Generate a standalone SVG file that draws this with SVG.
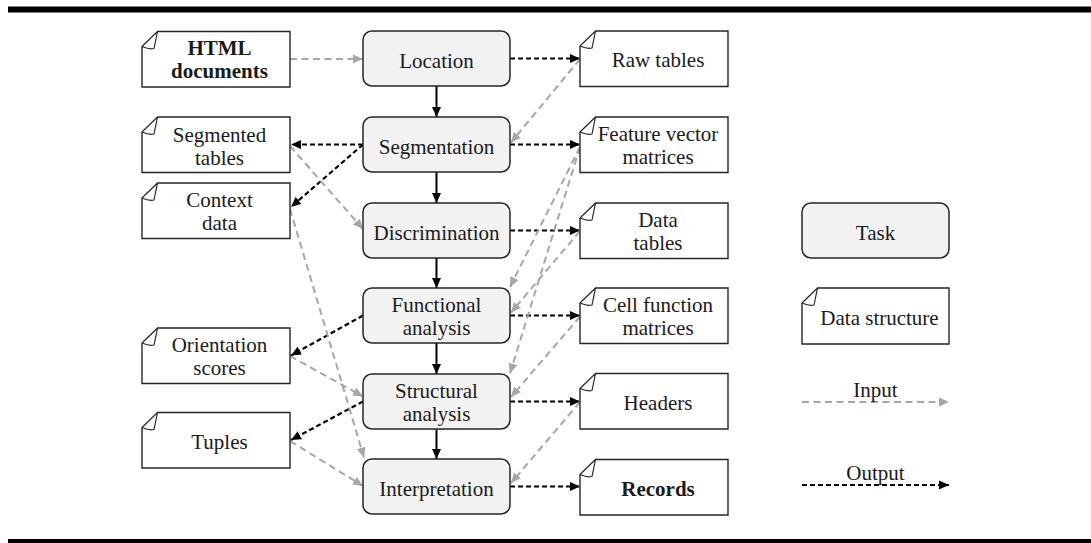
<svg xmlns="http://www.w3.org/2000/svg" width="1091" height="543" viewBox="0 0 1091 543">
<style>
.bar{fill:#000}
.task{fill:#f2f2f2;stroke:#262626;stroke-width:1.5}
.data{fill:#fff;stroke:#262626;stroke-width:1.4}
.fold{fill:#fff;stroke:#262626;stroke-width:1.2;stroke-linejoin:round}
text{font-family:"Liberation Serif","Times New Roman",serif;font-size:21px;fill:#1a1a1a;text-anchor:middle}
.b{font-weight:bold}
.flow{stroke:#000;stroke-width:2;fill:none}
.out{stroke:#000;stroke-width:2.2;stroke-dasharray:5 3;fill:none}
.in{stroke:#a6a6a6;stroke-width:2;stroke-dasharray:7 4.5;fill:none}
</style>
<defs>
<marker id="ab" markerUnits="userSpaceOnUse" markerWidth="10" markerHeight="10" viewBox="0 0 10 10" refX="10" refY="5" orient="auto"><path d="M0,0.5 L10,5 L0,9.5 z" fill="#000"/></marker>
<marker id="ag" markerUnits="userSpaceOnUse" markerWidth="10" markerHeight="10" viewBox="0 0 10 10" refX="10" refY="5" orient="auto"><path d="M0,0.5 L10,5 L0,9.5 z" fill="#a6a6a6"/></marker>
</defs>
<rect class="bar" x="8" y="6.5" width="1083" height="6"/>
<rect class="bar" x="8" y="539" width="1083" height="6"/>

<g id="connectors">
<line class="flow" x1="436.5" y1="86" x2="436.5" y2="117" marker-end="url(#ab)"/>
<line class="flow" x1="436.5" y1="172" x2="436.5" y2="203" marker-end="url(#ab)"/>
<line class="flow" x1="436.5" y1="258" x2="436.5" y2="288" marker-end="url(#ab)"/>
<line class="flow" x1="436.5" y1="343" x2="436.5" y2="374" marker-end="url(#ab)"/>
<line class="flow" x1="436.5" y1="429" x2="436.5" y2="459" marker-end="url(#ab)"/>

<line class="out" x1="510" y1="58.5" x2="580" y2="58.5" marker-end="url(#ab)"/>
<line class="out" x1="510" y1="144.5" x2="580" y2="144.5" marker-end="url(#ab)"/>
<line class="out" x1="510" y1="230.5" x2="580" y2="230.5" marker-end="url(#ab)"/>
<line class="out" x1="510" y1="315.5" x2="580" y2="315.5" marker-end="url(#ab)"/>
<line class="out" x1="510" y1="401.5" x2="580" y2="401.5" marker-end="url(#ab)"/>
<line class="out" x1="510" y1="486.5" x2="580" y2="486.5" marker-end="url(#ab)"/>
<line class="out" x1="363" y1="144.5" x2="291" y2="144.5" marker-end="url(#ab)"/>
<line class="out" x1="363" y1="144.5" x2="291" y2="207" marker-end="url(#ab)"/>
<line class="out" x1="363" y1="315.5" x2="291" y2="355.5" marker-end="url(#ab)"/>
<line class="out" x1="363" y1="401.5" x2="291" y2="440" marker-end="url(#ab)"/>

<line class="in" x1="290" y1="59" x2="363" y2="59" marker-end="url(#ag)"/>
<line class="in" x1="580" y1="59" x2="511" y2="142.5" marker-end="url(#ag)"/>
<line class="in" x1="290" y1="146" x2="363" y2="229" marker-end="url(#ag)"/>
<line class="in" x1="580" y1="147" x2="510" y2="287" marker-end="url(#ag)"/>
<line class="in" x1="580" y1="147" x2="510" y2="373.5" marker-end="url(#ag)"/>
<line class="in" x1="580" y1="231" x2="511" y2="312.5" marker-end="url(#ag)"/>
<line class="in" x1="580" y1="316.5" x2="511" y2="397" marker-end="url(#ag)"/>
<line class="in" x1="580" y1="402" x2="511" y2="483" marker-end="url(#ag)"/>
<line class="in" x1="290" y1="209" x2="364" y2="457.5" marker-end="url(#ag)"/>
<line class="in" x1="290" y1="356" x2="363" y2="396.5" marker-end="url(#ag)"/>
<line class="in" x1="290" y1="441" x2="363" y2="486" marker-end="url(#ag)"/>
</g>

<g id="location"><rect class="task" x="363" y="31" width="147" height="55" rx="9"/><text x="436.5" y="67.5">Location</text></g>
<g id="segmentation"><rect class="task" x="363" y="117" width="147" height="55" rx="9"/><text x="436.5" y="153.5">Segmentation</text></g>
<g id="discrimination"><rect class="task" x="363" y="203" width="147" height="55" rx="9"/><text x="436.5" y="239.5">Discrimination</text></g>
<g id="functional"><rect class="task" x="363" y="288" width="147" height="55" rx="9"/><text x="436.5" y="312">Functional</text><text x="436.5" y="335">analysis</text></g>
<g id="structural"><rect class="task" x="363" y="374" width="147" height="55" rx="9"/><text x="436.5" y="398">Structural</text><text x="436.5" y="421">analysis</text></g>
<g id="interpretation"><rect class="task" x="363" y="459" width="147" height="55" rx="9"/><text x="436.5" y="495.5">Interpretation</text></g>

<g id="html-documents"><path class="data" d="M157.5,31.5 H290 V87 H142 V46.5"/><path class="fold" d="M142,46.5 L157.5,31.5 L154,48.5 Q150,50 142,46.5 Z"/><text class="b" x="219.5" y="55">HTML</text><text class="b" x="219.5" y="78">documents</text></g>
<g id="segmented-tables"><path class="data" d="M157.5,117 H290 V172.5 H142 V132"/><path class="fold" d="M142,132 L157.5,117 L154,134 Q150,135.5 142,132 Z"/><text x="219.5" y="141.5">Segmented</text><text x="219.5" y="164.5">tables</text></g>
<g id="context-data"><path class="data" d="M157.5,183 H290 V238.5 H142 V198"/><path class="fold" d="M142,198 L157.5,183 L154,200 Q150,201.5 142,198 Z"/><text x="219.5" y="207">Context</text><text x="219.5" y="230">data</text></g>
<g id="orientation-scores"><path class="data" d="M157.5,328 H290 V383.5 H142 V343"/><path class="fold" d="M142,343 L157.5,328 L154,345 Q150,346.5 142,343 Z"/><text x="219.5" y="352">Orientation</text><text x="219.5" y="375">scores</text></g>
<g id="tuples"><path class="data" d="M157.5,412.5 H290 V468 H142 V427.5"/><path class="fold" d="M142,427.5 L157.5,412.5 L154,429.5 Q150,431 142,427.5 Z"/><text x="219.5" y="449">Tuples</text></g>

<g id="raw-tables"><path class="data" d="M595.5,31 H728 V86.5 H580 V46"/><path class="fold" d="M580,46 L595.5,31 L592,48 Q588,49.5 580,46 Z"/><text x="658" y="67">Raw tables</text></g>
<g id="feature-vector-matrices"><path class="data" d="M595.5,117 H728 V172.5 H580 V132"/><path class="fold" d="M580,132 L595.5,117 L592,134 Q588,135.5 580,132 Z"/><text x="658" y="140.5">Feature vector</text><text x="658" y="163.5">matrices</text></g>
<g id="data-tables"><path class="data" d="M595.5,203 H728 V258.5 H580 V218"/><path class="fold" d="M580,218 L595.5,203 L592,220 Q588,221.5 580,218 Z"/><text x="658" y="226.5">Data</text><text x="658" y="249.5">tables</text></g>
<g id="cell-function-matrices"><path class="data" d="M595.5,288 H728 V343.5 H580 V303"/><path class="fold" d="M580,303 L595.5,288 L592,305 Q588,306.5 580,303 Z"/><text x="658" y="312">Cell function</text><text x="658" y="335">matrices</text></g>
<g id="headers"><path class="data" d="M595.5,373.5 H728 V429 H580 V388.5"/><path class="fold" d="M580,388.5 L595.5,373.5 L592,390.5 Q588,392 580,388.5 Z"/><text x="658" y="410">Headers</text></g>
<g id="records"><path class="data" d="M595.5,459.5 H728 V515 H580 V474.5"/><path class="fold" d="M580,474.5 L595.5,459.5 L592,476.5 Q588,478 580,474.5 Z"/><text class="b" x="658" y="496">Records</text></g>

<g id="legend-task"><rect class="task" x="802" y="203" width="147" height="55" rx="9"/><text x="875.5" y="239.5">Task</text></g>
<g id="legend-data"><path class="data" d="M817.5,288 H949 V344 H802 V303"/><path class="fold" d="M802,303 L817.5,288 L814,305 Q810,306.5 802,303 Z"/><text x="879.5" y="325">Data structure</text></g>
<g id="legend-input"><line class="in" x1="802" y1="402" x2="949" y2="402" marker-end="url(#ag)"/><text x="875.5" y="397">Input</text></g>
<g id="legend-output"><line class="out" x1="802" y1="485" x2="949" y2="485" marker-end="url(#ab)"/><text x="875.5" y="480">Output</text></g>
</svg>
